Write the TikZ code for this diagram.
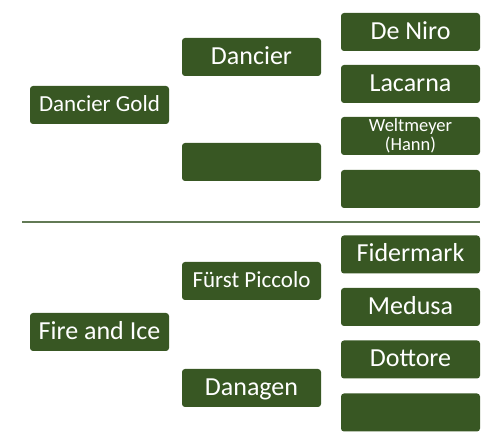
\documentclass[tikz,border=0pt]{standalone}
\usepackage{fontspec}
\setmainfont{Carlito}
\definecolor{boxgreen}{RGB}{56,87,35}
\definecolor{rulegreen}{RGB}{98,122,85}
\begin{document}
\begin{tikzpicture}[x=1pt,y=-1pt,
  box/.style={fill=boxgreen, rounded corners=3pt, text=white, inner sep=0pt,
    minimum width=139pt, minimum height=38pt, text height=14.6pt, text depth=0pt,
    font=\fontsize{26}{26}\selectfont},
  smalltxt/.style={text height=12.4pt, font=\fontsize{23}{23}\selectfont},
  twoline/.style={text height=, text depth=, align=center,
    font=\fontsize{18.5}{18.3}\selectfont}]
\useasboundingbox (0,0) rectangle (493,443);
% upper tree
\node[box,smalltxt] (dg) at (99.5,105) {Dancier Gold};
\node[box] (dan) at (251.5,57) {Dancier};
\node[box] (e1) at (251.5,162) {};
\node[box] (dn) at (410.5,32) {De Niro};
\node[box] (lac) at (410.5,84) {Lacarna};
\node[box,twoline] (wel) at (410.5,136) {Weltmeyer\\(Hann)};
\node[box] (e2) at (410.5,189) {};
% separator
\coordinate (sl) at (22,221.7);
\coordinate (sr) at (480,221.7);
\draw[rulegreen, line width=2pt] (sl) -- (sr);
% lower tree
\node[box] (fi) at (99.5,332) {Fire and Ice};
\node[box,smalltxt] (fp) at (251.5,281) {Fürst Piccolo};
\node[box] (dag) at (251.5,388) {Danagen};
\node[box] (fid) at (410.5,254.5) {Fidermark};
\node[box] (med) at (410.5,307) {Medusa};
\node[box] (dot) at (410.5,359.5) {Dottore};
\node[box] (e3) at (410.5,412.5) {};
\end{tikzpicture}
\end{document}
